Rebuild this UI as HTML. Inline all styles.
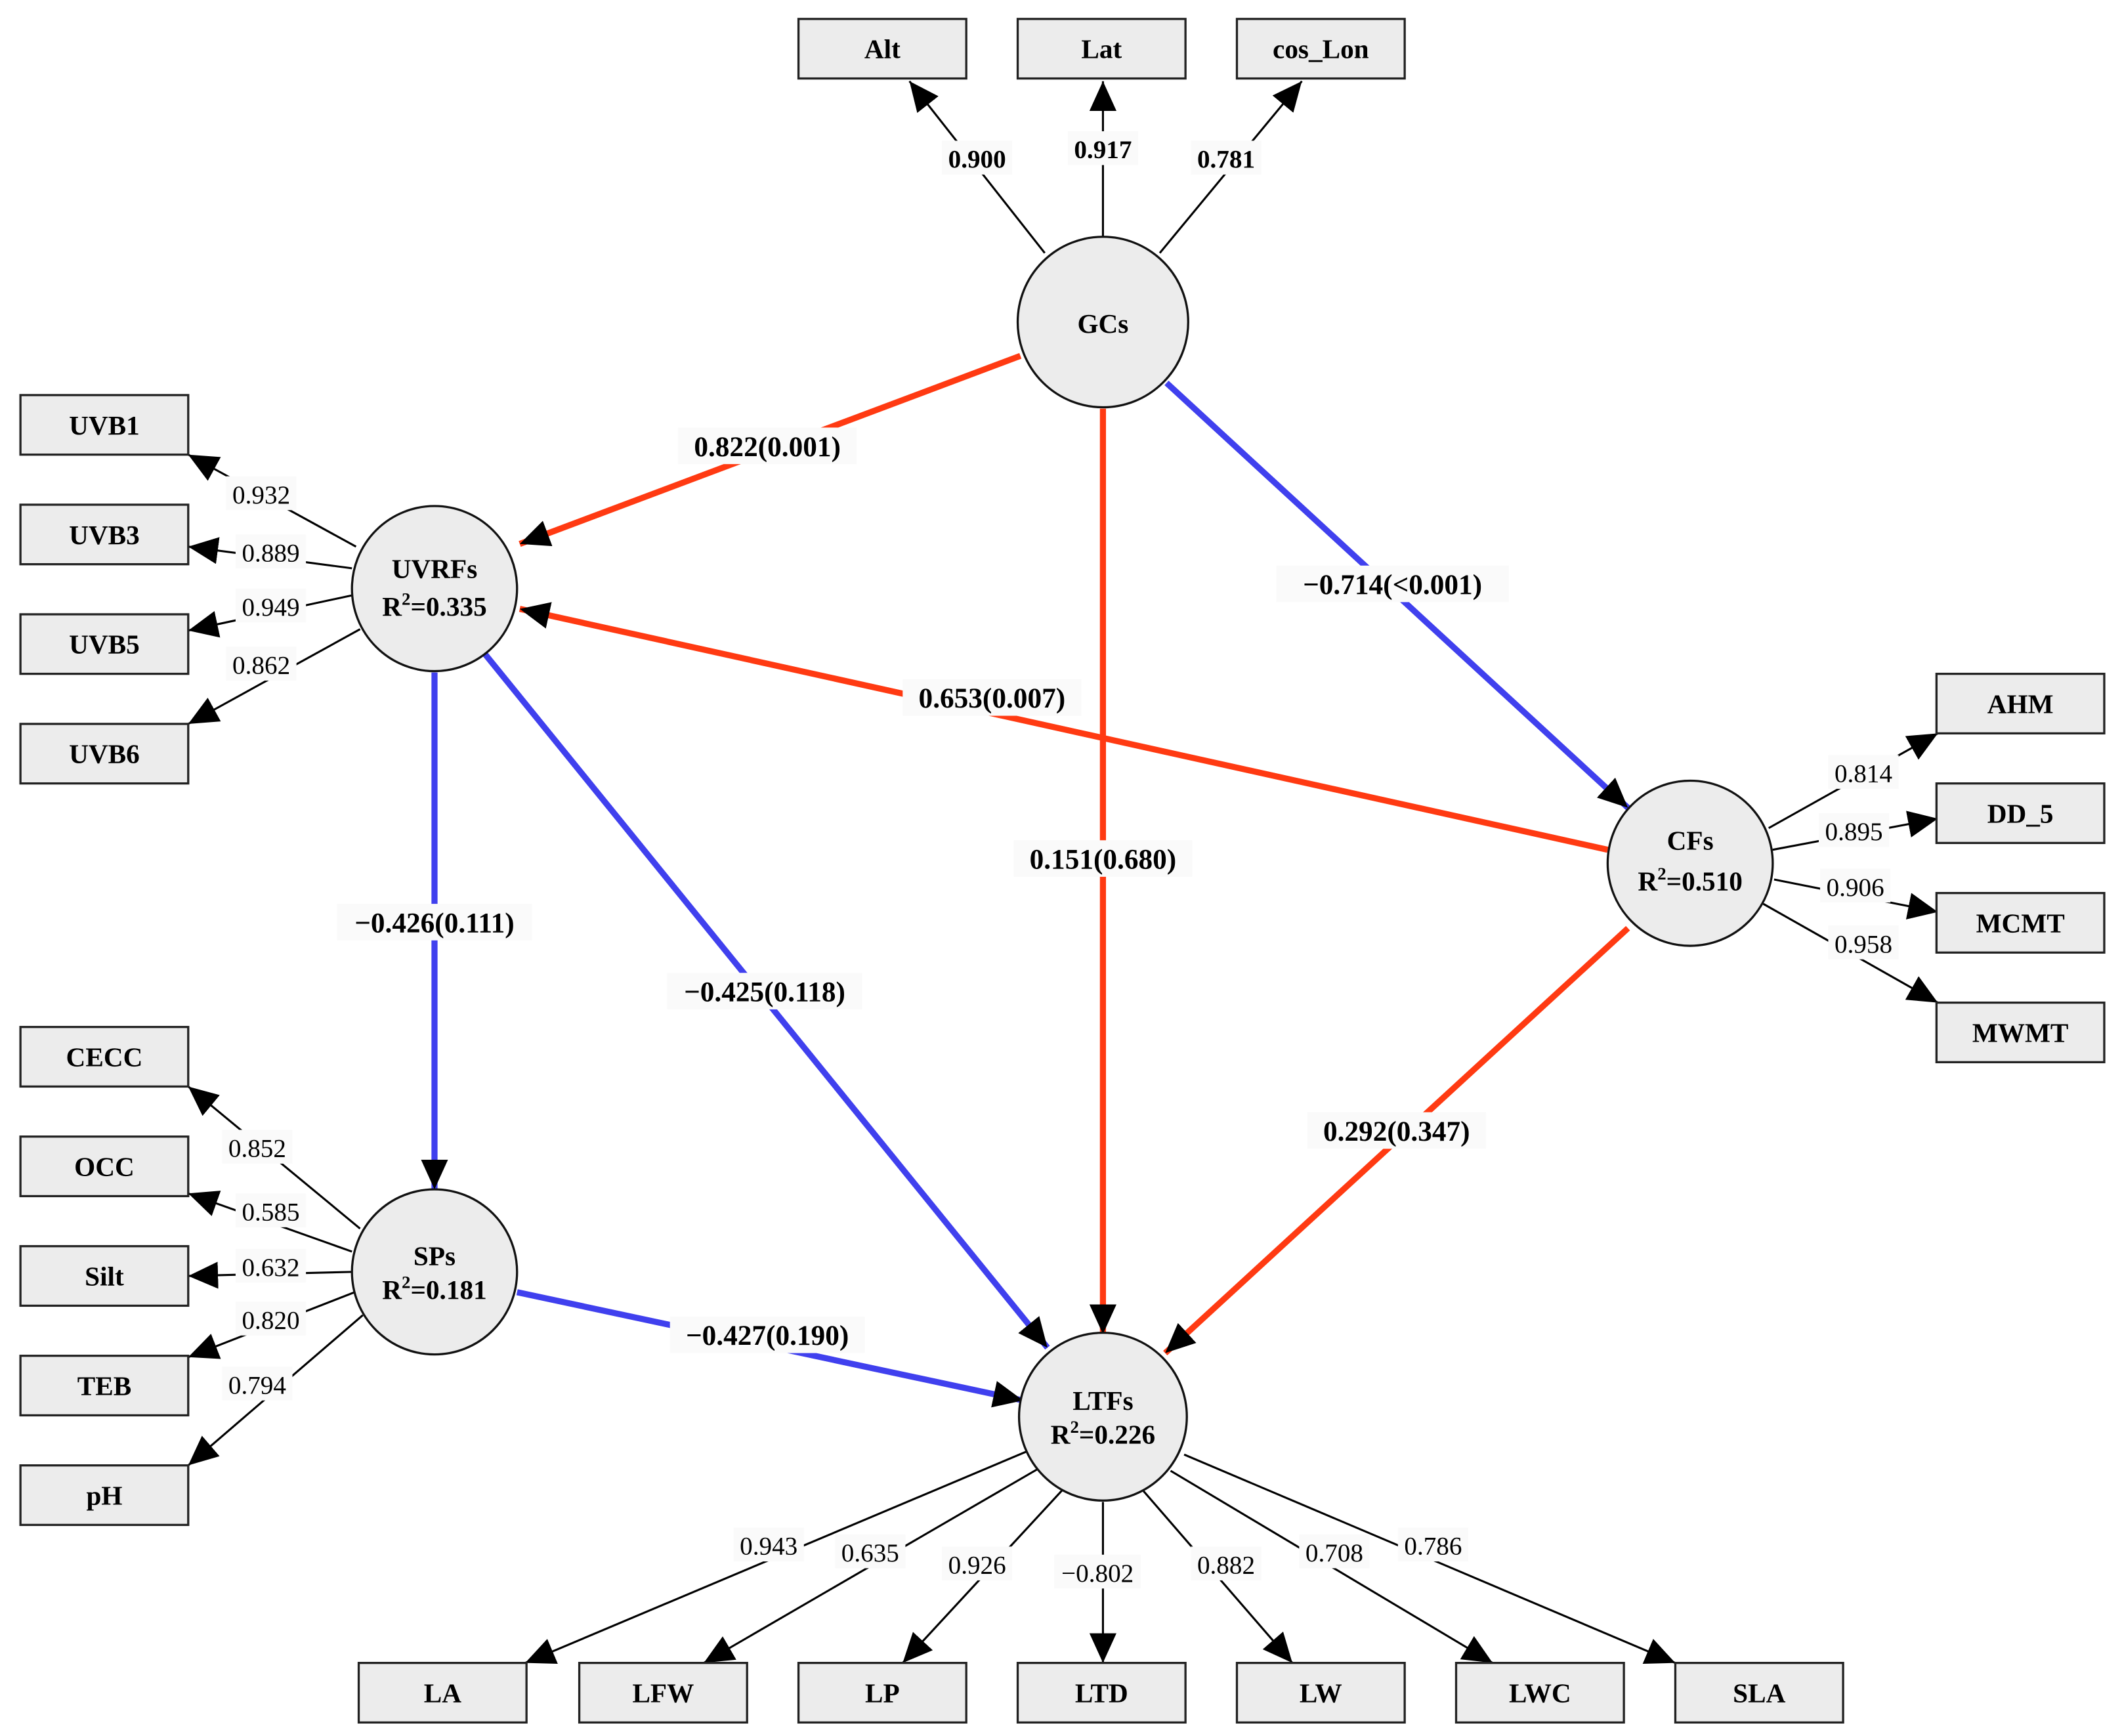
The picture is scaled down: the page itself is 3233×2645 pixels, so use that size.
<!DOCTYPE html>
<html><head><meta charset="utf-8"><style>
html,body{margin:0;padding:0;background:#fff;}
svg{display:block;}
.bx{fill:#ececec;stroke:#222;stroke-width:1.6;}
.bt{font-family:"Liberation Serif",serif;font-weight:bold;font-size:20px;text-anchor:middle;}
.ld{stroke:#000;stroke-width:1.5;fill:none;}
.lt{font-family:"Liberation Serif",serif;font-size:19px;text-anchor:middle;}
.pt{font-family:"Liberation Serif",serif;font-weight:bold;font-size:21px;text-anchor:middle;}
.red{stroke:#ff3a12;stroke-width:4.5;fill:none;}
.blue{stroke:#4040ee;stroke-width:4.5;fill:none;}
.cc{fill:#ececec;stroke:#111;stroke-width:1.6;}
.bg{fill:#fafafa;}
</style></head><body>
<svg width="3233" height="2645" viewBox="0 0 1568 1283" xmlns="http://www.w3.org/2000/svg">
<defs>
<marker id="a" markerUnits="userSpaceOnUse" markerWidth="24" markerHeight="22" refX="22" refY="10" orient="auto"><path d="M0,0 L22,10 L0,20 Z" fill="#000"/></marker>
</defs>
<line class="red" x1="754" y1="263" x2="384" y2="402" marker-end="url(#a)"/>
<line class="blue" x1="862" y1="283" x2="1203" y2="597" marker-end="url(#a)"/>
<line class="red" x1="815" y1="302" x2="815" y2="986" marker-end="url(#a)"/>
<line class="red" x1="1188" y1="628" x2="384" y2="450" marker-end="url(#a)"/>
<line class="blue" x1="321" y1="497" x2="321" y2="879" marker-end="url(#a)"/>
<line class="blue" x1="358" y1="483" x2="774" y2="996" marker-end="url(#a)"/>
<line class="red" x1="1203" y1="686" x2="861" y2="1000" marker-end="url(#a)"/>
<line class="blue" x1="382" y1="955" x2="756" y2="1035" marker-end="url(#a)"/>
<g class="ld">
<line x1="772" y1="187" x2="672" y2="60" marker-end="url(#a)"/>
<line x1="815" y1="175" x2="815" y2="60" marker-end="url(#a)"/>
<line x1="857" y1="187" x2="962" y2="60" marker-end="url(#a)"/>
<line x1="263" y1="404" x2="139" y2="336" marker-end="url(#a)"/>
<line x1="260" y1="420" x2="139" y2="404" marker-end="url(#a)"/>
<line x1="260" y1="440" x2="139" y2="466" marker-end="url(#a)"/>
<line x1="266" y1="465" x2="139" y2="535" marker-end="url(#a)"/>
<line x1="266" y1="908" x2="139" y2="803" marker-end="url(#a)"/>
<line x1="260" y1="925" x2="139" y2="882" marker-end="url(#a)"/>
<line x1="260" y1="940" x2="139" y2="943" marker-end="url(#a)"/>
<line x1="262" y1="955" x2="139" y2="1003" marker-end="url(#a)"/>
<line x1="268" y1="972" x2="139" y2="1083" marker-end="url(#a)"/>
<line x1="1307" y1="612" x2="1432" y2="542" marker-end="url(#a)"/>
<line x1="1310" y1="628" x2="1432" y2="605" marker-end="url(#a)"/>
<line x1="1311" y1="650" x2="1432" y2="674" marker-end="url(#a)"/>
<line x1="1303" y1="668" x2="1432" y2="741" marker-end="url(#a)"/>
<line x1="758" y1="1073" x2="388" y2="1229" marker-end="url(#a)"/>
<line x1="768" y1="1085" x2="520" y2="1229" marker-end="url(#a)"/>
<line x1="788" y1="1098" x2="667" y2="1229" marker-end="url(#a)"/>
<line x1="815" y1="1110" x2="815" y2="1229" marker-end="url(#a)"/>
<line x1="845" y1="1102" x2="955" y2="1229" marker-end="url(#a)"/>
<line x1="865" y1="1087" x2="1103" y2="1229" marker-end="url(#a)"/>
<line x1="875" y1="1075" x2="1238" y2="1229" marker-end="url(#a)"/>
</g>
<g>
<rect class="bg" x="696" y="104" width="52" height="25"/><text class="lt" x="722" y="124" font-weight="bold">0.900</text>
<rect class="bg" x="789" y="97" width="52" height="25"/><text class="lt" x="815" y="117" font-weight="bold">0.917</text>
<rect class="bg" x="880" y="104" width="52" height="25"/><text class="lt" x="906" y="124" font-weight="bold">0.781</text>
<rect class="bg" x="167" y="352" width="52" height="25"/><text class="lt" x="193" y="372">0.932</text>
<rect class="bg" x="174" y="395" width="52" height="25"/><text class="lt" x="200" y="415">0.889</text>
<rect class="bg" x="174" y="435" width="52" height="25"/><text class="lt" x="200" y="455">0.949</text>
<rect class="bg" x="167" y="478" width="52" height="25"/><text class="lt" x="193" y="498">0.862</text>
<rect class="bg" x="164" y="835" width="52" height="25"/><text class="lt" x="190" y="855">0.852</text>
<rect class="bg" x="174" y="882" width="52" height="25"/><text class="lt" x="200" y="902">0.585</text>
<rect class="bg" x="174" y="923" width="52" height="25"/><text class="lt" x="200" y="943">0.632</text>
<rect class="bg" x="174" y="962" width="52" height="25"/><text class="lt" x="200" y="982">0.820</text>
<rect class="bg" x="164" y="1010" width="52" height="25"/><text class="lt" x="190" y="1030">0.794</text>
<rect class="bg" x="1351" y="558" width="52" height="25"/><text class="lt" x="1377" y="578">0.814</text>
<rect class="bg" x="1344" y="601" width="52" height="25"/><text class="lt" x="1370" y="621">0.895</text>
<rect class="bg" x="1345" y="642" width="52" height="25"/><text class="lt" x="1371" y="662">0.906</text>
<rect class="bg" x="1351" y="684" width="52" height="25"/><text class="lt" x="1377" y="704">0.958</text>
<rect class="bg" x="542" y="1129" width="52" height="25"/><text class="lt" x="568" y="1149">0.943</text>
<rect class="bg" x="617" y="1134" width="52" height="25"/><text class="lt" x="643" y="1154">0.635</text>
<rect class="bg" x="696" y="1143" width="52" height="25"/><text class="lt" x="722" y="1163">0.926</text>
<rect class="bg" x="779" y="1149" width="64" height="25"/><text class="lt" x="811" y="1169">−0.802</text>
<rect class="bg" x="880" y="1143" width="52" height="25"/><text class="lt" x="906" y="1163">0.882</text>
<rect class="bg" x="960" y="1134" width="52" height="25"/><text class="lt" x="986" y="1154">0.708</text>
<rect class="bg" x="1033" y="1129" width="52" height="25"/><text class="lt" x="1059" y="1149">0.786</text>
</g>
<g>
<rect class="bg" x="501" y="316" width="132" height="27"/><text class="pt" x="567" y="337">0.822(0.001)</text>
<rect class="bg" x="943" y="418" width="172" height="27"/><text class="pt" x="1029" y="439">−0.714(&lt;0.001)</text>
<rect class="bg" x="749" y="621" width="132" height="27"/><text class="pt" x="815" y="642">0.151(0.680)</text>
<rect class="bg" x="667" y="502" width="132" height="27"/><text class="pt" x="733" y="523">0.653(0.007)</text>
<rect class="bg" x="249" y="668" width="144" height="27"/><text class="pt" x="321" y="689">−0.426(0.111)</text>
<rect class="bg" x="493" y="719" width="144" height="27"/><text class="pt" x="565" y="740">−0.425(0.118)</text>
<rect class="bg" x="966" y="822" width="132" height="27"/><text class="pt" x="1032" y="843">0.292(0.347)</text>
<rect class="bg" x="495" y="973" width="144" height="27"/><text class="pt" x="567" y="994">−0.427(0.190)</text>
</g>
<circle class="cc" cx="815" cy="238" r="63"/><text class="bt" x="815" y="246">GCs</text>
<circle class="cc" cx="321" cy="435" r="61"/><text class="bt" x="321" y="427">UVRFs</text><text class="bt" x="321" y="455" font-size="22">R<tspan font-size="13" dy="-8">2</tspan><tspan dy="8">=0.335</tspan></text>
<circle class="cc" cx="1249" cy="638" r="61"/><text class="bt" x="1249" y="628">CFs</text><text class="bt" x="1249" y="658" font-size="22">R<tspan font-size="13" dy="-8">2</tspan><tspan dy="8">=0.510</tspan></text>
<circle class="cc" cx="321" cy="940" r="61"/><text class="bt" x="321" y="935">SPs</text><text class="bt" x="321" y="960" font-size="22">R<tspan font-size="13" dy="-8">2</tspan><tspan dy="8">=0.181</tspan></text>
<circle class="cc" cx="815" cy="1047" r="62"/><text class="bt" x="815" y="1042">LTFs</text><text class="bt" x="815" y="1067" font-size="22">R<tspan font-size="13" dy="-8">2</tspan><tspan dy="8">=0.226</tspan></text>
<g>
<rect class="bx" x="590" y="14" width="124" height="44"/><text class="bt" x="652" y="43">Alt</text>
<rect class="bx" x="752" y="14" width="124" height="44"/><text class="bt" x="814" y="43">Lat</text>
<rect class="bx" x="914" y="14" width="124" height="44"/><text class="bt" x="976" y="43">cos_Lon</text>
<rect class="bx" x="15" y="292" width="124" height="44"/><text class="bt" x="77" y="321">UVB1</text>
<rect class="bx" x="15" y="373" width="124" height="44"/><text class="bt" x="77" y="402">UVB3</text>
<rect class="bx" x="15" y="454" width="124" height="44"/><text class="bt" x="77" y="483">UVB5</text>
<rect class="bx" x="15" y="535" width="124" height="44"/><text class="bt" x="77" y="564">UVB6</text>
<rect class="bx" x="15" y="759" width="124" height="44"/><text class="bt" x="77" y="788">CECC</text>
<rect class="bx" x="15" y="840" width="124" height="44"/><text class="bt" x="77" y="869">OCC</text>
<rect class="bx" x="15" y="921" width="124" height="44"/><text class="bt" x="77" y="950">Silt</text>
<rect class="bx" x="15" y="1002" width="124" height="44"/><text class="bt" x="77" y="1031">TEB</text>
<rect class="bx" x="15" y="1083" width="124" height="44"/><text class="bt" x="77" y="1112">pH</text>
<rect class="bx" x="1431" y="498" width="124" height="44"/><text class="bt" x="1493" y="527">AHM</text>
<rect class="bx" x="1431" y="579" width="124" height="44"/><text class="bt" x="1493" y="608">DD_5</text>
<rect class="bx" x="1431" y="660" width="124" height="44"/><text class="bt" x="1493" y="689">MCMT</text>
<rect class="bx" x="1431" y="741" width="124" height="44"/><text class="bt" x="1493" y="770">MWMT</text>
<rect class="bx" x="265" y="1229" width="124" height="44"/><text class="bt" x="327" y="1258">LA</text>
<rect class="bx" x="428" y="1229" width="124" height="44"/><text class="bt" x="490" y="1258">LFW</text>
<rect class="bx" x="590" y="1229" width="124" height="44"/><text class="bt" x="652" y="1258">LP</text>
<rect class="bx" x="752" y="1229" width="124" height="44"/><text class="bt" x="814" y="1258">LTD</text>
<rect class="bx" x="914" y="1229" width="124" height="44"/><text class="bt" x="976" y="1258">LW</text>
<rect class="bx" x="1076" y="1229" width="124" height="44"/><text class="bt" x="1138" y="1258">LWC</text>
<rect class="bx" x="1238" y="1229" width="124" height="44"/><text class="bt" x="1300" y="1258">SLA</text>
</g>
</svg>
</body></html>
